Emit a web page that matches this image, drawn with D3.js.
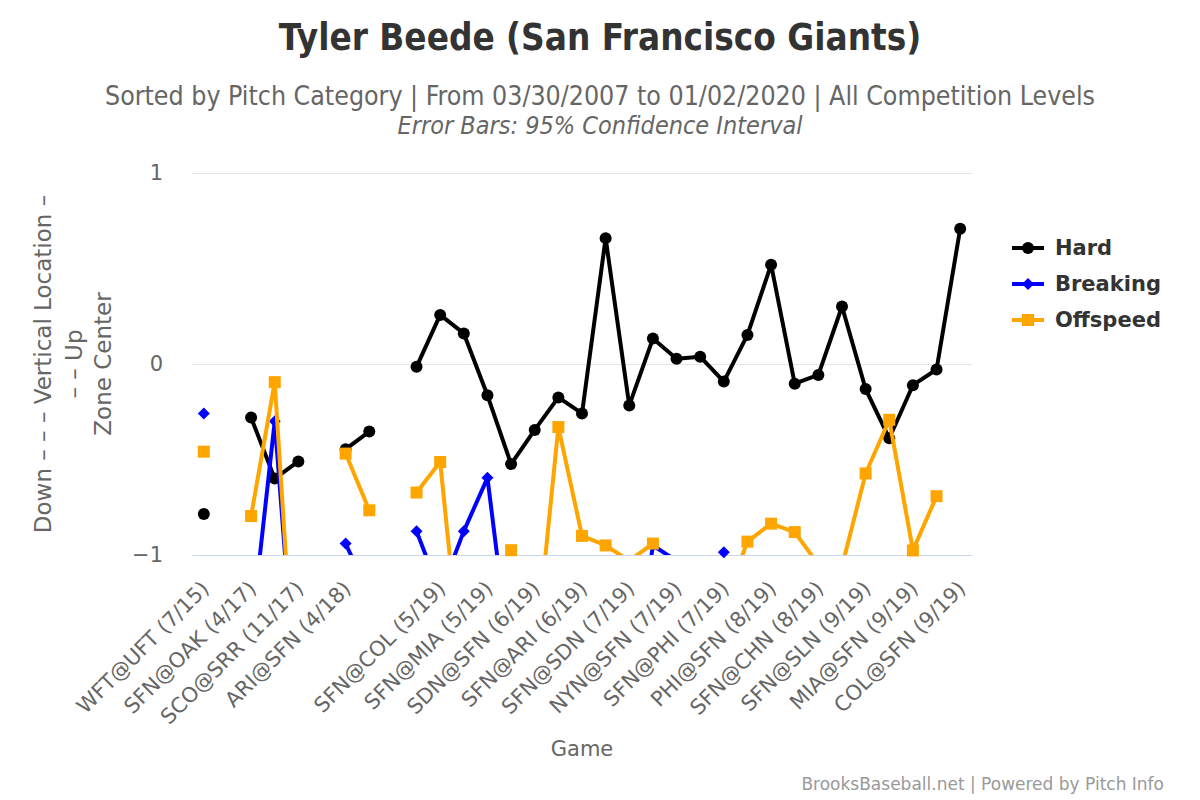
<!DOCTYPE html>
<html>
<head>
<meta charset="utf-8">
<script src="https://cdnjs.cloudflare.com/ajax/libs/d3/7.8.5/d3.min.js"></script>
<style>
  body { margin: 0; background: #fff; }
  svg { display: block; }
</style>
</head>
<body>
<script>
//game labels, only every other game gets a label on the axis (null = no label)
const gameLabels = [
    "WFT@UFT (7/15)", null, "SFN@OAK (4/17)", null, "SCO@SRR (11/17)", null,
    "ARI@SFN (4/18)", null, "", null, "SFN@COL (5/19)", null,
    "SFN@MIA (5/19)", null, "SDN@SFN (6/19)", null, "SFN@ARI (6/19)", null,
    "SFN@SDN (7/19)", null, "NYN@SFN (7/19)", null, "SFN@PHI (7/19)", null,
    "PHI@SFN (8/19)", null, "SFN@CHN (8/19)", null, "SFN@SLN (9/19)", null,
    "MIA@SFN (9/19)", null, "COL@SFN (9/19)"
];

//vertical location per game (null = no pitches of that type)
const hardValues = [
    -0.785, null, -0.28, -0.60, -0.51, null, -0.446, -0.354, null, -0.015,
    0.257, 0.16, -0.164, -0.524, -0.345, -0.175, -0.259, 0.659, -0.217, 0.133,
    0.027, 0.038, -0.092, 0.152, 0.52, -0.103, -0.057, 0.301, -0.131, -0.389,
    -0.111, -0.029, 0.708
];
const breakingValues = [
    -0.259, null, -1.42, -0.30, -1.9, null, -0.94, -1.21, null, -0.875,
    -1.2, -0.875, -0.596, -1.59, null, null, null, null, -1.8, -0.95,
    -1.03, null, -0.985, null, null, null, null, null, null, null,
    null, null, null
];
const offspeedValues = [
    -0.459, null, -0.796, -0.095, -2.03, null, -0.469, -0.766, null, -0.673,
    -0.513, -1.73, null, -0.975, -1.56, -0.33, -0.90, -0.95, -1.03, -0.94,
    null, null, -1.26, -0.93, -0.836, -0.88, -1.05, -1.06, -0.573, -0.292,
    -0.976, -0.692, null
];

const seriesNames = ["Hard", "Breaking", "Offspeed"];
const seriesColors = ["#000000", "#0000ff", "#ffa500"];
const seriesSymbols = ["circle", "diamond", "square"];
const yTicks = [-1, 0, 1];

const width = 1200, height = 800;
const plotLeft = 192, plotRight = 972, plotTop = 173, plotBottom = 555;

const svg = d3.select("body")
    .append("svg")
    .attr("width", width)
    .attr("height", height)
    .style("font-family", "'DejaVu Sans', sans-serif");

//scales
const x = d3.scalePoint()
    .domain(d3.range(gameLabels.length))
    .range([plotLeft, plotRight])
    .padding(0.5);

const y = d3.scaleLinear()
    .domain([-1, 1])
    .range([plotBottom, plotTop]);

//titles
svg.append("text")
    .attr("x", 600).attr("y", 50)
    .attr("text-anchor", "middle")
    .style("font-family", "'DejaVu Sans Condensed', 'DejaVu Sans', sans-serif")
    .style("font-weight", "bold")
    .style("font-size", "36.5px")
    .style("fill", "#333333")
    .text("Tyler Beede (San Francisco Giants)");

svg.append("text")
    .attr("x", 600).attr("y", 105)
    .attr("text-anchor", "middle")
    .style("font-family", "'DejaVu Sans Condensed', 'DejaVu Sans', sans-serif")
    .style("font-size", "26.5px")
    .style("fill", "#666666")
    .text("Sorted by Pitch Category | From 03/30/2007 to 01/02/2020 | All Competition Levels");

svg.append("text")
    .attr("x", 600).attr("y", 134)
    .attr("text-anchor", "middle")
    .style("font-family", "'DejaVu Sans Condensed', 'DejaVu Sans', sans-serif")
    .style("font-style", "italic")
    .style("font-size", "25px")
    .style("fill", "#666666")
    .text("Error Bars: 95% Confidence Interval");

//y gridlines and labels
const yAxis = svg.append("g")
    .attr("transform", "translate(" + plotLeft + ",0)")
    .call(d3.axisLeft(y)
        .tickValues(yTicks)
        .tickFormat(d3.format("d"))
        .tickSize(-(plotRight - plotLeft))
        .tickPadding(29));

yAxis.select(".domain").remove();
yAxis.selectAll(".tick line")
    .style("stroke", "#e6e6e6")
    .style("stroke-width", 1);
yAxis.selectAll(".tick text")
    .style("font-family", "'DejaVu Sans', sans-serif")
    .style("font-size", "21px")
    .style("fill", "#666666");

//y axis title
const yTitleLines = ["Down \u2013 \u2013 \u2013 Vertical Location \u2013", "\u2013 \u2013 Up", "Zone Center"];
const yTitleX = [43, 74, 103];
svg.append("g")
    .selectAll("text")
    .data(yTitleLines)
    .enter()
    .append("text")
    .attr("transform", function (d, i) {
        return "translate(" + yTitleX[i] + "," + ((plotTop + plotBottom) / 2) + ") rotate(-90)";
    })
    .attr("text-anchor", "middle")
    .attr("dy", "0.35em")
    .style("font-size", "23px")
    .style("fill", "#666666")
    .text(function (d) { return d; });

//x axis
const labelled = d3.range(gameLabels.length).filter(function (i) { return gameLabels[i] != null; });
const xAxis = svg.append("g")
    .attr("transform", "translate(0," + plotBottom + ")")
    .call(d3.axisBottom(x)
        .tickValues(labelled)
        .tickFormat(function (i) { return gameLabels[i]; })
        .tickSize(0)
        .tickSizeOuter(0));

xAxis.select(".domain")
    .style("stroke", "#ccd6eb")
    .style("stroke-width", 1);
xAxis.selectAll(".tick text")
    .attr("x", 0).attr("y", 0).attr("dy", 0)
    .attr("transform", "translate(6,35) rotate(-45)")
    .attr("text-anchor", "end")
    .style("font-family", "'DejaVu Sans', sans-serif")
    .style("font-size", "21px")
    .style("fill", "#666666");

//x axis title
svg.append("text")
    .attr("x", (plotLeft + plotRight) / 2).attr("y", 756)
    .attr("text-anchor", "middle")
    .style("font-size", "21px")
    .style("fill", "#666666")
    .text("Game");

//clip for the lines
svg.append("clipPath")
    .attr("id", "plotClip")
    .append("rect")
    .attr("x", plotLeft).attr("y", plotTop)
    .attr("width", plotRight - plotLeft)
    .attr("height", plotBottom - plotTop);

//marker shapes
function markerPath(type) {
    if (type == "circle") {
        return d3.symbol().type(d3.symbolCircle).size(Math.PI * 36)();
    } else if (type == "square") {
        return "M-6,-6H6V6H-6Z";
    } else {
        return "M0,-6L6,0L0,6L-6,0Z";
    }
}

const lineGen = d3.line()
    .defined(function (d) { return d != null; })
    .x(function (d, i) { return x(i); })
    .y(function (d) { return y(d); });

const allSeries = [hardValues, breakingValues, offspeedValues];

allSeries.forEach(function (values, s) {
    const g = svg.append("g");

    g.append("path")
        .datum(values)
        .attr("clip-path", "url(#plotClip)")
        .attr("d", lineGen)
        .style("fill", "none")
        .style("stroke", seriesColors[s])
        .style("stroke-width", 4)
        .style("stroke-linejoin", "round")
        .style("stroke-linecap", "round");

    //markers only for points inside the plot
    const pts = values
        .map(function (v, i) { return { i: i, v: v }; })
        .filter(function (p) { return p.v != null && p.v >= -1 && p.v <= 1; });

    g.selectAll(".marker")
        .data(pts)
        .enter()
        .append("path")
        .attr("transform", function (p) { return "translate(" + x(p.i) + "," + y(p.v) + ")"; })
        .attr("d", function () { return markerPath(seriesSymbols[s]); })
        .style("fill", seriesColors[s]);
});

//legend
const legend = svg.append("g")
    .selectAll("g")
    .data(seriesNames)
    .enter()
    .append("g")
    .attr("transform", function (d, i) { return "translate(1012," + (248 + i * 36) + ")"; });

legend.append("line")
    .attr("x1", 0).attr("x2", 32)
    .style("stroke", function (d, i) { return seriesColors[i]; })
    .style("stroke-width", 4);

legend.append("path")
    .attr("transform", "translate(16,0)")
    .attr("d", function (d, i) { return markerPath(seriesSymbols[i]); })
    .style("fill", function (d, i) { return seriesColors[i]; });

legend.append("text")
    .attr("x", 43).attr("dy", "0.35em")
    .style("font-weight", "bold")
    .style("font-size", "21px")
    .style("fill", "#333333")
    .text(function (d) { return d; });

//credits
svg.append("text")
    .attr("x", 1164).attr("y", 790)
    .attr("text-anchor", "end")
    .style("font-size", "17px")
    .style("fill", "#999999")
    .text("BrooksBaseball.net | Powered by Pitch Info");
</script>
</body>
</html>
